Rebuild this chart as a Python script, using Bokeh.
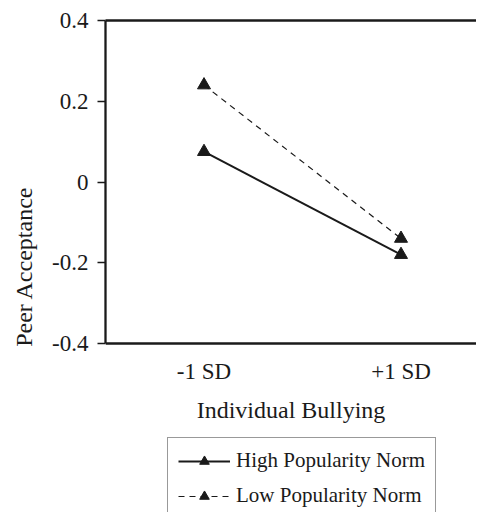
from bokeh.plotting import figure
from bokeh.models import (Legend, LegendItem, LinearAxis, FixedTicker, Range1d,
                          CustomJSTickFormatter)
from bokeh.embed import file_html
from bokeh.resources import INLINE

# ---- data ----
categories = ["-1 SD", "+1 SD"]
x_pos = [-1, 1]
high_norm = [0.075, -0.18]
low_norm = [0.24, -0.14]
y_ticks = [-0.4, -0.2, 0, 0.2, 0.4]
series_names = ["High Popularity Norm", "Low Popularity Norm"]

FONT = "Liberation Serif"
INK = "#1a1a1a"

W, H = 476, 512
LEFT, TOP = 105, 20
PX_PER_UNIT_Y = 403.75      # 0.8 data units over 323 px
PX_PER_UNIT_X = 98.5
y_lo = 0.4 - (H - TOP) / PX_PER_UNIT_Y
x_hi = -2 + (W - LEFT) / PX_PER_UNIT_X

p = figure(width=W, height=H, output_backend="svg", toolbar_location=None,
           x_range=Range1d(-2, x_hi), y_range=Range1d(y_lo, 0.4),
           min_border_left=LEFT, min_border_right=0, min_border_top=TOP,
           min_border_bottom=0)
p.outline_line_color = None
p.xgrid.visible = False
p.ygrid.visible = False
p.background_fill_color = "white"
p.border_fill_color = "white"

# lines + markers
r_hi_line = p.line(x_pos, high_norm, line_color=INK, line_width=2)
r_hi_pts = p.scatter(x_pos, high_norm, marker="triangle", size=13,
                     fill_color=INK, line_color=INK)
r_lo_line = p.line(x_pos, low_norm, line_color=INK, line_width=1.2,
                   line_dash="6 5")
r_lo_pts = p.scatter(x_pos, low_norm, marker="triangle", size=13,
                     fill_color=INK, line_color=INK)

# x axis, pinned at y = -0.4
xa = p.xaxis[0]
xa.fixed_location = y_ticks[0]
xa.ticker = FixedTicker(ticks=x_pos)
xa.major_label_overrides = {x: c for x, c in zip(x_pos, categories)}
xa.major_tick_out = 0
xa.major_tick_in = 0
xa.minor_tick_out = 0
xa.minor_tick_in = 0
xa.axis_line_width = 2.3
xa.axis_line_color = INK
xa.major_label_standoff = 15
xa.major_label_text_font = FONT
xa.major_label_text_font_size = "23px"
xa.major_label_text_color = INK
xa.axis_label = "Individual Bullying"
xa.axis_label_text_font = FONT
xa.axis_label_text_font_size = "24px"
xa.axis_label_text_font_style = "normal"
xa.axis_label_text_color = INK
xa.axis_label_standoff = 10

# y axis
ya = p.yaxis[0]
ya.bounds = (y_ticks[0], y_ticks[-1])
ya.ticker = FixedTicker(ticks=y_ticks)
ya.formatter = CustomJSTickFormatter(code="return tick === 0 ? '0' : tick.toFixed(1);")
ya.major_tick_out = 8
ya.major_tick_in = 0
ya.minor_tick_out = 0
ya.minor_tick_in = 0
ya.major_tick_line_width = 1.5
ya.major_tick_line_color = INK
ya.axis_line_width = 2.3
ya.axis_line_color = INK
ya.major_label_standoff = 9
ya.major_label_text_font = FONT
ya.major_label_text_font_size = "23px"
ya.major_label_text_color = INK
ya.axis_label = "Peer Acceptance"
ya.axis_label_text_font = FONT
ya.axis_label_text_font_size = "24px"
ya.axis_label_text_font_style = "normal"
ya.axis_label_text_color = INK
ya.axis_label_standoff = 12

# top line
top = LinearAxis(ticker=FixedTicker(ticks=[]), major_tick_out=0, major_tick_in=0,
                 minor_tick_out=0, minor_tick_in=0, axis_line_width=2.3,
                 axis_line_color=INK, major_label_text_font_size="0px")
p.add_layout(top, "above")

legend = Legend(items=[
    LegendItem(label=series_names[0], renderers=[r_hi_line, r_hi_pts]),
    LegendItem(label=series_names[1], renderers=[r_lo_line, r_lo_pts]),
], location=(62, -7), orientation="vertical",
    label_text_font=FONT, label_text_font_size="21px", label_text_color=INK,
    glyph_width=52, glyph_height=24, label_height=24, label_standoff=6,
    padding=10, spacing=10, margin=0,
    border_line_color="#333333", border_line_width=1.5,
    background_fill_color="white", background_fill_alpha=1.0)
p.add_layout(legend, "center")

open("out.html", "w").write(file_html(p, INLINE))
